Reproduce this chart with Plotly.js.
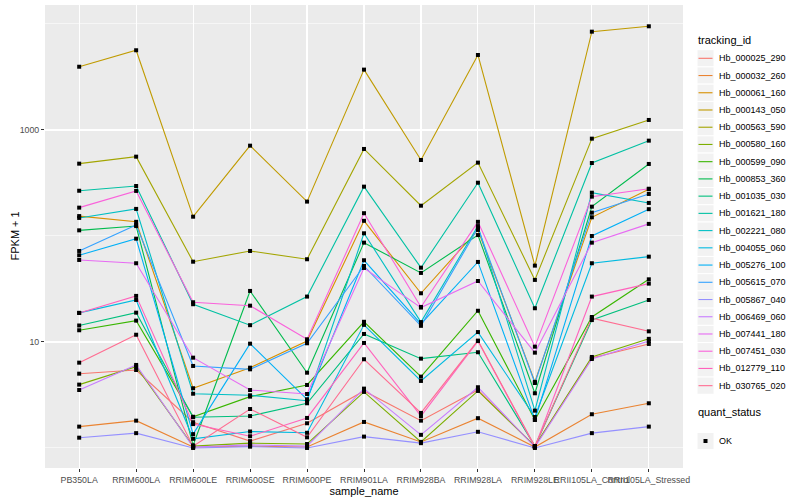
<!DOCTYPE html>
<html>
<head>
<meta charset="utf-8">
<script src="https://cdn.plot.ly/plotly-3.0.1.min.js"></script>
<style>html,body{margin:0;padding:0;background:#fff;}#chart{width:800px;height:500px;}</style>
</head>
<body>
<div id="chart"></div>
<script>
// ---- data (FPKM + 1) ----
const sampleNames = ['PB350LA','RRIM600LA','RRIM600LE','RRIM600SE','RRIM600PE','RRIM901LA','RRIM928BA','RRIM928LA','RRIM928LE','RRII105LA_Control','RRII105LA_Stressed'];

const trackingIds = ['Hb_000025_290','Hb_000032_260','Hb_000061_160','Hb_000143_050','Hb_000563_590','Hb_000580_160','Hb_000599_090','Hb_000853_360','Hb_001035_030','Hb_001621_180','Hb_002221_080','Hb_004055_060','Hb_005276_100','Hb_005615_070','Hb_005867_040','Hb_006469_060','Hb_007441_180','Hb_007451_030','Hb_012779_110','Hb_030765_020'];

const hb_000025_290 = [5.02, 5.44, 1.75, 1.16, 1.71, 3.45, 1.81, 3.52, 1.04, 7.06, 9.58];
const hb_000032_260 = [1.59, 1.81, 1.02, 1.04, 1.02, 1.76, 1.14, 1.91, 1.02, 2.08, 2.64];
const hb_000061_160 = [154, 136, 3.66, 5.72, 10.2, 139, 28.8, 114, 4.2, 150, 276];
const hb_000143_050 = [3950, 5650, 152, 711, 211, 3710, 521, 5100, 52.5, 8460, 9510];
const hb_000563_590 = [481, 560, 57.2, 72.2, 60.3, 662, 193, 492, 38.5, 828, 1243];
const hb_000580_160 = [3.96, 5.85, 1.04, 1.11, 1.09, 3.38, 1.14, 3.45, 1.04, 7.22, 10.7];
const hb_000599_090 = [12.9, 15.9, 1.97, 3.05, 3.93, 15.5, 4.71, 19.7, 1.84, 17.2, 39.0];
const hb_000853_360 = [113, 124, 1.06, 30.3, 5.13, 86.5, 44.8, 102, 3.28, 189, 478];
const hb_001035_030 = [14.3, 18.9, 1.95, 2.00, 2.64, 11.9, 6.96, 8.0, 1.04, 16.1, 24.9];
const hb_001621_180 = [267, 296, 22.7, 14.4, 26.8, 292, 50.2, 318, 20.8, 488, 793];
const hb_002221_080 = [148, 180, 3.25, 3.14, 2.79, 106, 15.4, 124, 2.25, 256, 205];
const hb_004055_060 = [18.8, 24.9, 1.22, 1.43, 1.39, 14.5, 4.29, 12.4, 1.96, 55.3, 63.8];
const hb_005276_100 = [65.8, 94.3, 1.35, 9.64, 2.88, 59.0, 14.8, 56.9, 1.84, 100, 179];
const hb_005615_070 = [72.2, 127, 5.94, 5.52, 9.72, 52.1, 14.2, 119, 4.10, 166, 249];
const hb_005867_040 = [1.25, 1.38, 1.0, 1.03, 1.0, 1.28, 1.11, 1.42, 1.0, 1.38, 1.59];
const hb_006469_060 = [3.52, 6.07, 1.02, 1.07, 1.04, 3.63, 1.33, 3.74, 1.02, 6.91, 10.2];
const hb_007441_180 = [59.4, 55.3, 7.11, 3.52, 3.23, 49.9, 21.1, 37.6, 7.93, 86.5, 130];
const hb_007451_030 = [185, 266, 23.7, 22.0, 10.6, 164, 21.4, 136, 9.03, 235, 279];
const hb_012779_110 = [18.8, 27.2, 1.68, 1.29, 1.92, 9.79, 2.0, 10.2, 1.02, 26.8, 35.5];
const hb_030765_020 = [6.38, 11.7, 1.04, 2.33, 1.26, 6.87, 2.14, 10.3, 1.04, 16.8, 12.6];

const seriesValues = [hb_000025_290, hb_000032_260, hb_000061_160, hb_000143_050, hb_000563_590, hb_000580_160, hb_000599_090, hb_000853_360, hb_001035_030, hb_001621_180, hb_002221_080, hb_004055_060, hb_005276_100, hb_005615_070, hb_005867_040, hb_006469_060, hb_007441_180, hb_007451_030, hb_012779_110, hb_030765_020];

const quantStatus = ['OK'];

// ggplot2 default hue palette, 20 levels
const palette = ['#F8766D','#EA8331','#D89000','#C09B00','#A3A500','#7CAE00','#39B600','#00BB4E','#00BF7D','#00C1A3','#00BFC4','#00BAE0','#00B0F6','#35A2FF','#9590FF','#C77CFF','#E76BF3','#FA62DB','#FF62BC','#FF6C91'];

// ---- layout geometry ----
const W = 800, H = 500;
const PL = 45, PR = 683, PT = 5, PB = 468;
const pw = PR - PL, ph = PB - PT;
const px = v => (v - PL) / pw;      // pixel x -> paper x
const py = v => (PB - v) / ph;      // pixel y -> paper y
const FONT = 'Liberation Sans, Arial, sans-serif';

const traces = [];
trackingIds.forEach((id, i) => {
  traces.push({
    type: 'scatter', mode: 'lines', name: id,
    x: sampleNames, y: seriesValues[i],
    line: {color: palette[i], width: 1.1},
    showlegend: false, hoverinfo: 'skip'
  });
});
trackingIds.forEach((id, i) => {
  traces.push({
    type: 'scatter', mode: 'markers', name: id + ' ' + quantStatus[0],
    x: sampleNames, y: seriesValues[i],
    marker: {color: '#000', symbol: 'square', size: 4},
    showlegend: false, hoverinfo: 'skip'
  });
});

// ---- manual ggplot-like legend ----
const shapes = [], annotations = [];
const keyL = 697, keyR = 714, first = 58.3, step = 17.23;
annotations.push({xref:'paper', yref:'paper', x: px(696), y: py(40.5), xanchor:'left', yanchor:'middle',
  text:'tracking_id', showarrow:false, font:{family:FONT, size:11, color:'#000'}});
trackingIds.forEach((id, i) => {
  const cy = first + i * step;
  shapes.push({type:'rect', xref:'paper', yref:'paper', x0:px(keyL), x1:px(keyR), y0:py(cy-8.6), y1:py(cy+8.6),
    fillcolor:'#F2F2F2', line:{color:'#fff', width:1}, layer:'above'});
  shapes.push({type:'line', xref:'paper', yref:'paper', x0:px(keyL+1.5), x1:px(keyR-1.5), y0:py(cy), y1:py(cy),
    line:{color:palette[i], width:1.1}, layer:'above'});
  annotations.push({xref:'paper', yref:'paper', x: px(716.5), y: py(cy), xanchor:'left', yanchor:'middle',
    text:id, showarrow:false, font:{family:FONT, size:9, color:'#000'}});
});
annotations.push({xref:'paper', yref:'paper', x: px(696), y: py(411.5), xanchor:'left', yanchor:'middle',
  text:'quant_status', showarrow:false, font:{family:FONT, size:11, color:'#000'}});
const okY = 441;
shapes.push({type:'rect', xref:'paper', yref:'paper', x0:px(keyL), x1:px(keyR), y0:py(okY-8.6), y1:py(okY+8.6),
  fillcolor:'#F2F2F2', line:{color:'#fff', width:1}, layer:'above'});
shapes.push({type:'rect', xref:'paper', yref:'paper', x0:px(703.5), x1:px(707.5), y0:py(okY-2), y1:py(okY+2),
  fillcolor:'#000', line:{width:0}, layer:'above'});
annotations.push({xref:'paper', yref:'paper', x: px(716.5), y: py(okY), xanchor:'left', yanchor:'middle',
  text:quantStatus[0], showarrow:false, font:{family:FONT, size:9, color:'#000'}});
// y-axis title
annotations.push({xref:'paper', yref:'paper', x: px(14), y: py(236.5), xanchor:'center', yanchor:'middle',
  text:'FPKM + 1', textangle:-90, showarrow:false, font:{family:FONT, size:11, color:'#000'}});

const layout = {
  width: W, height: H,
  margin: {l: PL, r: W - PR, t: PT, b: H - PB, pad: 0},
  paper_bgcolor: '#fff', plot_bgcolor: '#EBEBEB',
  showlegend: false,
  font: {family: FONT, size: 9, color: '#4D4D4D'},
  xaxis: {
    type: 'category', range: [-0.6, 10.6], categoryorder: 'array', categoryarray: sampleNames,
    showgrid: true, gridcolor: '#fff', gridwidth: 1.1, zeroline: false, showline: false,
    ticks: 'outside', ticklen: 3, tickcolor: '#333', tickwidth: 1, tickangle: 0,
    tickfont: {family: FONT, size: 8.8, color: '#4D4D4D'},
    title: {text: 'sample_name', font: {family: FONT, size: 11, color: '#000'}, standoff: 1}
  },
  yaxis: {
    type: 'log', range: [-0.189, 4.179],
    tickmode: 'array', tickvals: [10, 1000], ticktext: ['10', '1000'],
    showgrid: true, gridcolor: '#fff', gridwidth: 1.1, zeroline: false, showline: false,
    ticks: 'outside', ticklen: 3, tickcolor: '#333', tickwidth: 1,
    tickfont: {family: FONT, size: 8.8, color: '#4D4D4D'},
    minor: {tickmode: 'array', tickvals: [1, 100, 10000], showgrid: true, gridcolor: '#fff', gridwidth: 0.55, ticks: ''}
  },
  shapes: shapes,
  annotations: annotations
};

Plotly.newPlot('chart', traces, layout, {staticPlot: true, displayModeBar: false});
</script>
</body>
</html>
